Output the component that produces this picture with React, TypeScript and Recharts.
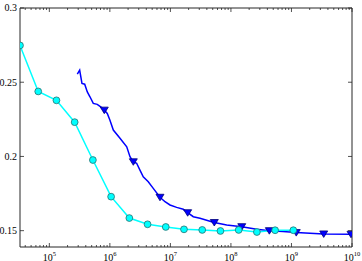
import { ComposedChart, Line, Scatter, XAxis, YAxis } from 'recharts'

// cyan series: sample sizes are powers of two
const cyanX = [32768, 65536, 131072, 262144, 524288, 1048576, 2097152, 4194304, 8388608, 16777216, 33554432, 67108864, 134217728, 268435456, 536870912, 1073741824]
const cyanY = [0.2748, 0.2438, 0.2378, 0.2231, 0.1976, 0.1729, 0.1585, 0.1543, 0.1525, 0.1509, 0.1505, 0.1498, 0.1505, 0.1491, 0.1503, 0.1503]

// blue series, traced densely
const blueX = [2.9e5, 3.17e5, 3.46e5, 3.84e5, 4.24e5, 4.69e5, 5.32e5, 6.19e5, 7.05e5, 8.09e5, 9.06e5, 1.0e6, 1.14e6, 1.47e6, 1.9e6, 2.15e6, 2.44e6, 2.77e6, 3.14e6, 3.56e6, 4.31e6, 5.21e6, 6.73e6, 8.14e6, 9.85e6, 1.27e7, 1.63e7, 1.93e7, 2.39e7, 3.08e7, 4.23e7, 5.31e7, 8.51e7, 1.51e8, 2.67e8, 4.31e8, 7.25e8, 1.2e9, 3.41e9, 9.62e9]
const blueY = [0.2555, 0.2581, 0.2492, 0.2487, 0.2435, 0.2402, 0.2357, 0.2351, 0.2334, 0.2312, 0.229, 0.2245, 0.2178, 0.2122, 0.2065, 0.1998, 0.1964, 0.1954, 0.1908, 0.1863, 0.183, 0.1785, 0.1725, 0.1695, 0.1673, 0.1657, 0.1644, 0.1621, 0.1594, 0.1583, 0.1567, 0.1555, 0.1538, 0.1527, 0.1509, 0.15, 0.1495, 0.1487, 0.1478, 0.1476]

// triangle markers on the blue line
const markerX = [8.09e5, 2.44e6, 6.73e6, 1.93e7, 5.31e7, 1.51e8, 4.31e8, 1.2e9, 3.41e9, 9.62e9]
const markerY = [0.2312, 0.1964, 0.1725, 0.1621, 0.1555, 0.1527, 0.15, 0.1487, 0.1478, 0.1476]

const xDomain = [32768, 1e10]
const yDomain = [0.139, 0.3]
const xDecades = [1e4, 1e5, 1e6, 1e7, 1e8, 1e9, 1e10]
const xMinorSteps = [2, 3, 4, 5, 6, 7, 8, 9]
const yTicks = [0.15, 0.2, 0.25, 0.3]

const xTicks = xDecades
  .flatMap(d => [d, ...xMinorSteps.map(s => s * d)])
  .filter(v => v >= xDomain[0] && v <= xDomain[1])

const cyanData = cyanX.map((x, i) => ({ x, y: cyanY[i] }))
const blueData = blueX.map((x, i) => ({ x, y: blueY[i] }))
const markerData = markerX.map((x, i) => ({ x, y: markerY[i] }))

const FONT = '"Liberation Serif", "Times New Roman", serif'
const AXIS = '#262626'

const isMajor = (v: number) => Math.abs(Math.log10(v) - Math.round(Math.log10(v))) < 1e-9

const BottomTick = (props: any) => {
  const { x, y, payload } = props
  const v = payload.value
  const major = isMajor(v)
  return (
    <g>
      <line x1={x} x2={x} y1={y} y2={y - (major ? 4 : 2)} stroke={AXIS} strokeWidth={0.8} />
      {major && (
        <text x={x} y={y + 13.5} textAnchor="middle" fontFamily={FONT} fontSize={10} fill="#000">
          10<tspan fontSize={6.5} dy={-4.5}>{Math.round(Math.log10(v))}</tspan>
        </text>
      )}
    </g>
  )
}

const TopTick = (props: any) => {
  const { x, y, payload } = props
  const major = isMajor(payload.value)
  return <line x1={x} x2={x} y1={y} y2={y + (major ? 4 : 2)} stroke={AXIS} strokeWidth={0.8} />
}

const LeftTick = (props: any) => {
  const { x, y, payload } = props
  return (
    <g>
      <line x1={x} x2={x + 4} y1={y} y2={y} stroke={AXIS} strokeWidth={0.8} />
      <text x={x - 3} y={y} dy={3.4} textAnchor="end" fontFamily={FONT} fontSize={10} fill="#000">
        {String(payload.value)}
      </text>
    </g>
  )
}

const RightTick = (props: any) => {
  const { x, y } = props
  return <line x1={x} x2={x - 4} y1={y} y2={y} stroke={AXIS} strokeWidth={0.8} />
}

const Triangle = (props: any) => {
  const { cx, cy } = props
  if (cx == null || cy == null) return null
  return (
    <path
      d={`M${cx - 4},${cy - 3} L${cx + 4},${cy - 3} L${cx},${cy + 3.5} Z`}
      fill="#0000ff"
      stroke="#00007a"
      strokeWidth={0.8}
    />
  )
}

export default function App() {
  return (
    <div style={{ position: 'absolute', left: 0, top: 0 }}>
      <ComposedChart width={362} height={261} margin={{ top: 0, right: 0, bottom: 0, left: 0 }}>
        <XAxis
          xAxisId="b"
          dataKey="x"
          type="number"
          scale="log"
          domain={xDomain}
          allowDataOverflow
          ticks={xTicks}
          interval={0}
          tickSize={0}
          tickMargin={0}
          height={14}
          tick={<BottomTick />}
          tickLine={false}
          axisLine={{ stroke: AXIS }}
        />
        <XAxis
          xAxisId="t"
          orientation="top"
          dataKey="x"
          type="number"
          scale="log"
          domain={xDomain}
          allowDataOverflow
          ticks={xTicks}
          interval={0}
          tickSize={0}
          tickMargin={0}
          height={8}
          tick={<TopTick />}
          tickLine={false}
          axisLine={{ stroke: AXIS }}
        />
        <YAxis
          yAxisId="l"
          dataKey="y"
          type="number"
          domain={yDomain}
          allowDataOverflow
          ticks={yTicks}
          interval={0}
          tickSize={0}
          tickMargin={0}
          width={20}
          tick={<LeftTick />}
          tickLine={false}
          axisLine={{ stroke: AXIS }}
        />
        <YAxis
          yAxisId="r"
          orientation="right"
          dataKey="y"
          type="number"
          domain={yDomain}
          allowDataOverflow
          ticks={yTicks}
          interval={0}
          tickSize={0}
          tickMargin={0}
          width={10}
          tick={<RightTick />}
          tickLine={false}
          axisLine={{ stroke: AXIS }}
        />
        <Line
          data={blueData}
          xAxisId="b"
          yAxisId="l"
          dataKey="y"
          type="linear"
          stroke="#0000ff"
          strokeWidth={1.5}
          dot={false}
          activeDot={false}
          isAnimationActive={false}
        />
        <Scatter
          data={markerData}
          xAxisId="b"
          yAxisId="l"
          dataKey="y"
          shape={<Triangle />}
          isAnimationActive={false}
        />
        <Line
          data={cyanData}
          xAxisId="b"
          yAxisId="l"
          dataKey="y"
          type="linear"
          stroke="#00ffff"
          strokeWidth={1.5}
          dot={{ r: 3.4, fill: '#00ffff', stroke: '#2a7070', strokeWidth: 0.8 }}
          activeDot={false}
          isAnimationActive={false}
        />
      </ComposedChart>
    </div>
  )
}
